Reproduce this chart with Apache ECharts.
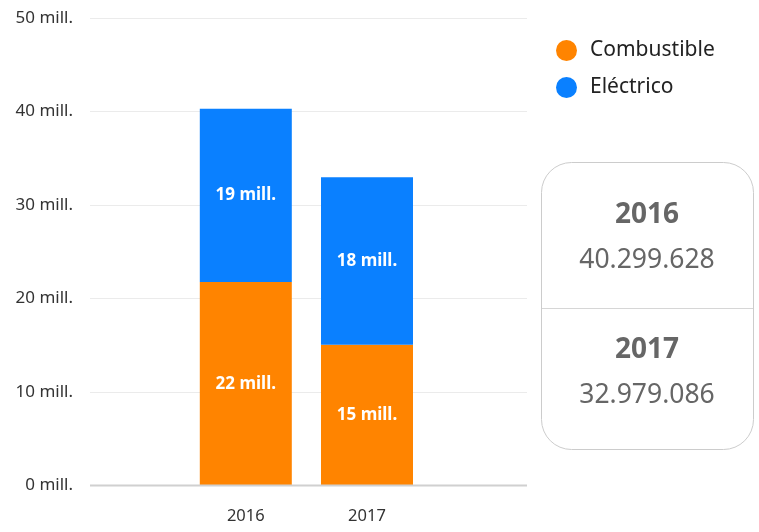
<!DOCTYPE html>
<html>
<head>
<meta charset="utf-8">
<script src="https://cdn.jsdelivr.net/npm/echarts@6/dist/echarts.min.js"></script>
<style>html,body{margin:0;padding:0;background:#fff}#c{width:759px;height:532px}</style>
</head>
<body>
<div id="c"></div>
<script>
const years = ['2016', '2017'];
const combustible = [21.76, 15.06];
const electrico = [18.54, 17.92];
const totals = ['40.299.628', '32.979.086'];
const yTicks = [0, 10, 20, 30, 40, 50];

const chart = echarts.init(document.getElementById('c'), null, {renderer: 'canvas'});
const font = 'Noto Sans';
const lbl = {
  show: true, position: 'inside', color: '#fff', fontWeight: 'bold', fontSize: 17, fontFamily: font,
  formatter: p => Math.round(p.value) + ' mill.'
};
const yMin = yTicks[0], yMax = yTicks[yTicks.length - 1];
chart.setOption({
  animation: false,
  textStyle: {fontFamily: font},
  grid: [
    {left: 90, right: 232, top: 18, bottom: 532 - 485.5},
    {left: 185.2, width: 242.4, top: 18, bottom: 532 - 485.5}
  ],
  legend: {
    orient: 'vertical', left: 551, top: 35, itemWidth: 21, itemHeight: 21, itemGap: 16, icon: 'circle',
    textStyle: {fontSize: 21, color: '#222', fontFamily: font, padding: [0, 0, 0, 8]},
    data: ['Combustible', 'Eléctrico']
  },
  xAxis: [
    {gridIndex: 0, type: 'category', data: [], show: false},
    {gridIndex: 1, type: 'category', data: years,
     axisLine: {show: false}, axisTick: {show: false}, splitLine: {show: false},
     axisLabel: {color: '#333', fontSize: 16.5, margin: 22}}
  ],
  yAxis: [
    {gridIndex: 0, type: 'value', min: yMin, max: yMax, interval: 10,
     axisLine: {show: false}, axisTick: {show: false},
     splitLine: {lineStyle: {color: '#ebebeb', width: 1}},
     axisLabel: {formatter: v => v + ' mill.', color: '#333', fontSize: 17, margin: 17}},
    {gridIndex: 1, type: 'value', min: yMin, max: yMax, interval: 10, show: false, splitLine: {show: false}}
  ],
  series: [
    {name: 'Combustible', type: 'bar', stack: 't', xAxisIndex: 1, yAxisIndex: 1, barWidth: 92,
     itemStyle: {color: '#ff8400'}, data: combustible, label: lbl},
    {name: 'Eléctrico', type: 'bar', stack: 't', xAxisIndex: 1, yAxisIndex: 1, barWidth: 92,
     itemStyle: {color: '#0a80ff'}, data: electrico, label: lbl}
  ],
  graphic: [
    {type: 'line', shape: {x1: 90, y1: 485.5, x2: 527, y2: 485.5}, style: {stroke: '#d0d0d0', lineWidth: 2}, z: 10},
    {type: 'rect', shape: {x: 541.5, y: 162.5, width: 212, height: 287, r: 30}, style: {fill: '#fff', stroke: '#cccccc', lineWidth: 1}},
    {type: 'line', shape: {x1: 542, y1: 308.5, x2: 753, y2: 308.5}, style: {stroke: '#d6d6d6', lineWidth: 1}},
    {type: 'text', x: 647, y: 215, style: {text: years[0], fill: '#666', font: 'bold 28px "Noto Sans"', align: 'center', verticalAlign: 'middle'}},
    {type: 'text', x: 647, y: 260, style: {text: totals[0], fill: '#666', font: '26.5px "Noto Sans"', align: 'center', verticalAlign: 'middle'}},
    {type: 'text', x: 647, y: 350, style: {text: years[1], fill: '#666', font: 'bold 28px "Noto Sans"', align: 'center', verticalAlign: 'middle'}},
    {type: 'text', x: 647, y: 395, style: {text: totals[1], fill: '#666', font: '26.5px "Noto Sans"', align: 'center', verticalAlign: 'middle'}}
  ]
});
</script>
</body>
</html>
